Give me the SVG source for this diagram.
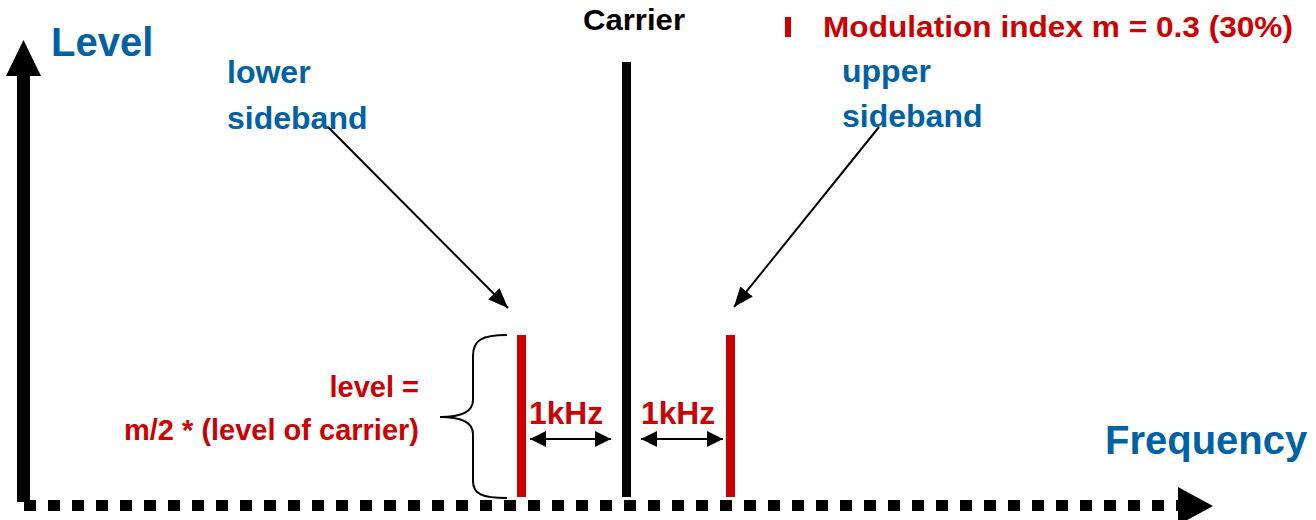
<svg xmlns="http://www.w3.org/2000/svg" width="1316" height="520" viewBox="0 0 1316 520">
<style>
text{font-family:"Liberation Sans",Arial,sans-serif;font-weight:bold}
.blue{fill:#0061a6}
.red{fill:#cc0000}
.blk{fill:#000}
.conn{stroke:#000;stroke-width:2;fill:none}
</style>
<defs>
<marker id="ah2" viewBox="0 0 16 16" refX="16" refY="8" markerWidth="16" markerHeight="16" markerUnits="userSpaceOnUse" orient="auto-start-reverse">
<path d="M0,0 L16,8 L0,16 z" fill="#000"/>
</marker>
<marker id="ah3" viewBox="0 0 20 16" refX="20" refY="8" markerWidth="20" markerHeight="16" markerUnits="userSpaceOnUse" orient="auto">
<path d="M0,0 L20,8 L0,16 z" fill="#000"/>
</marker>
</defs>
<rect width="1316" height="520" fill="#fff"/>
<g id="axes">
<rect x="17" y="74" width="13" height="428" fill="#000"/>
<polygon points="23.5,40 6,76 41,76" fill="#000"/>
<line x1="24" y1="505.5" x2="1180" y2="505.5" stroke="#000" stroke-width="11" stroke-dasharray="12 12"/>
<polygon points="1178,487 1213,506 1178,525" fill="#000"/>
<text x="51" y="56" font-size="40" class="blue">Level</text>
<text x="1105" y="454" font-size="40" class="blue">Frequency</text>
</g>
<g id="carrier">
<rect x="622" y="62" width="9" height="435" fill="#000"/>
<text x="583" y="30" font-size="30" class="blk" textLength="102" lengthAdjust="spacingAndGlyphs">Carrier</text>
</g>
<g id="legend">
<rect x="785" y="17" width="6" height="20" fill="#cc0000"/>
<text x="823" y="37" font-size="30" class="red" textLength="470" lengthAdjust="spacingAndGlyphs">Modulation index m = 0.3 (30%)</text>
</g>
<g id="lower-sideband">
<rect x="517" y="335" width="9" height="162" fill="#cc0000"/>
<text x="227" y="83" font-size="32" class="blue">lower</text>
<text x="227" y="129" font-size="32" class="blue">sideband</text>
</g>
<g id="upper-sideband">
<rect x="726" y="335" width="9" height="162" fill="#cc0000"/>
<text x="842" y="82" font-size="32" class="blue">upper</text>
<text x="842" y="127" font-size="32" class="blue">sideband</text>
</g>
<g id="level-note">
<path class="conn" d="M507,335 C482,335 473,340 473,356 L473,400 C473,412 462,417 440,417 C462,417 473,422 473,434 L473,481 C473,494 482,498 507,498"/>
<text x="419" y="397" font-size="29" class="red" text-anchor="end">level =</text>
<text x="419" y="440" font-size="29" class="red" text-anchor="end">m/2 * (level of carrier)</text>
</g>
<g id="spacing-labels">
<text x="529" y="424" font-size="31" class="red" textLength="74" lengthAdjust="spacingAndGlyphs">1kHz</text>
<text x="641" y="424" font-size="31" class="red" textLength="74" lengthAdjust="spacingAndGlyphs">1kHz</text>
</g>
<g id="connectors">
<line class="conn" x1="530" y1="439" x2="611" y2="439" marker-start="url(#ah2)" marker-end="url(#ah2)"/>
<line class="conn" x1="641" y1="439" x2="723" y2="439" marker-start="url(#ah2)" marker-end="url(#ah2)"/>
<line class="conn" x1="328" y1="127" x2="508" y2="308" marker-end="url(#ah3)"/>
<line class="conn" x1="879" y1="127" x2="734" y2="307" marker-end="url(#ah3)"/>
</g>
</svg>
